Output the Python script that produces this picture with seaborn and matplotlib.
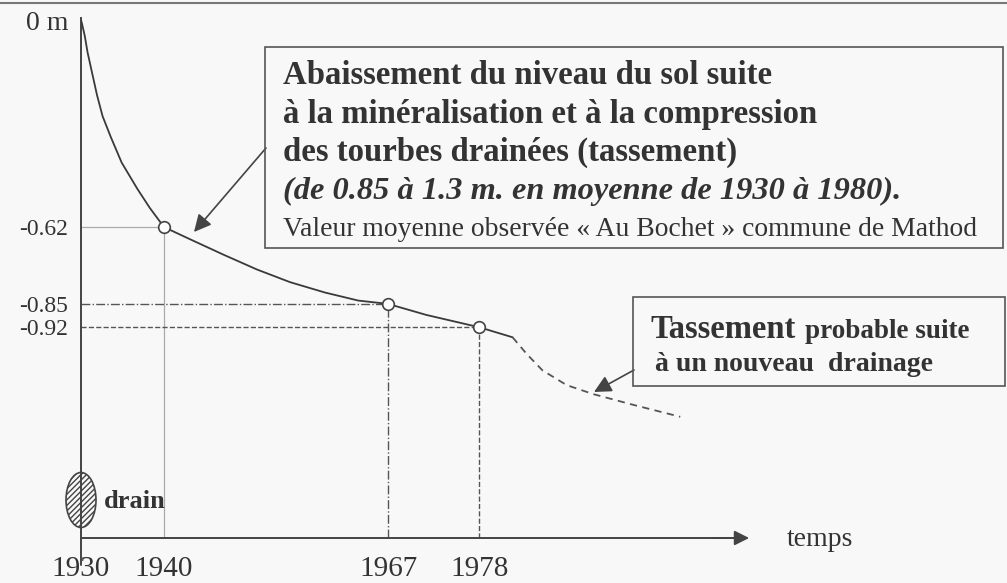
import matplotlib
matplotlib.use("Agg")
import matplotlib.pyplot as plt
from matplotlib.patches import Rectangle, Ellipse
from matplotlib.lines import Line2D
import seaborn as sns
import pandas as pd

# --- data ---
# observed subsidence curve (years, depth in m)
curve_years = [1930, 1930.1, 1930.45, 1930.8, 1931.36, 1931.93, 1932.6, 1933.6, 1934.9,
               1936.8, 1938.3, 1940, 1943.1, 1947.2, 1951.2, 1955.2, 1959.4, 1963.4,
               1967, 1971.6, 1978, 1982]
curve_depth = [0.0, -0.009, -0.047, -0.098, -0.161, -0.225, -0.288, -0.351, -0.427,
               -0.506, -0.563, -0.62, -0.656, -0.703, -0.747, -0.785, -0.816, -0.840,
               -0.85, -0.883, -0.92, -0.95]
# probable further subsidence after new drainage
tail_years = [1982, 1983.7, 1985.6, 1988.5, 1991.7, 1996.5, 2002.2]
tail_depth = [-0.95, -1.00, -1.049, -1.093, -1.12, -1.152, -1.188]
# marked observations
mark_years = [1940, 1967, 1978]
mark_depth = [-0.62, -0.85, -0.92]
mark_styles = ["-", "-.", "--"]

xtick_vals = [1930, 1940, 1967, 1978]
xtick_labels = ["1930", "1940", "1967", "1978"]
ytick_vals = [0, -0.62, -0.85, -0.92]
ytick_labels = ["0 m", "-0.62", "-0.85", "-0.92"]

W, H = 1007, 583
INK = "#333333"
BG = "#f8f8f8"

sns.set_style("white")
plt.rcParams["font.family"] = ["Liberation Serif", "DejaVu Serif"]

fig = plt.figure(figsize=(W / 100, H / 100), dpi=100, facecolor=BG)

def fx(px):
    return px / W

def fy(py):
    return 1 - py / H

Y0 = -518 / 334  # depth at the time axis

# axes: left edge = y axis (1930), bottom edge = time axis
ax = fig.add_axes([fx(81), fy(538), (W - 81) / W, 538 / H])
ax.set_facecolor("none")
ax.set_xlim(1930, 1930 + 926 / 8.3)
ax.set_ylim(Y0, 20 / 334)

# reference lines to the axes
ref_colors = ["#aaaaaa", "#555555", "#555555"]
ref_lw = [0.9, 1.0, 1.0]
for yr, d, ls, c, lw in zip(mark_years, mark_depth, mark_styles, ref_colors, ref_lw):
    ax.hlines(d, 1930, yr, colors=c, linestyles=ls, lw=lw, zorder=1)
    ax.vlines(yr, Y0, d, colors=c, linestyles=ls, lw=lw, zorder=1)

df = pd.DataFrame({"year": curve_years, "depth": curve_depth})
sns.lineplot(data=df, x="year", y="depth", sort=False, estimator=None,
             color="#3a3a3a", lw=1.3, ax=ax, zorder=3)
tail = pd.DataFrame({"year": tail_years, "depth": tail_depth})
sns.lineplot(data=tail, x="year", y="depth", sort=False, estimator=None,
             color="#555555", lw=1.3, linestyle=(0, (4, 3)), ax=ax, zorder=3)
sns.scatterplot(x=mark_years, y=mark_depth, s=70, facecolor="white",
                edgecolor="#444444", linewidth=1.2, ax=ax, zorder=4)

# axes styling
for s in ["top", "right"]:
    ax.spines[s].set_visible(False)
for s in ["left", "bottom"]:
    ax.spines[s].set_color("#444444")
    ax.spines[s].set_linewidth(1.4)
ax.spines["bottom"].set_bounds(1930, 2009)
ax.spines["left"].set_bounds(Y0, 0.005)
ax.annotate("", xy=(2010.5, Y0), xytext=(2006, Y0),
            arrowprops=dict(arrowstyle="-|>", color="#444444", lw=1.4,
                            mutation_scale=22, shrinkA=0, shrinkB=0),
            annotation_clip=False)
ax.plot([1930, 1930], [Y0, -545 / 334], color="#444444", lw=1.4, clip_on=False)

ax.set_xticks(xtick_vals)
ax.set_xticklabels(xtick_labels, fontsize=21, color=INK)
ax.set_yticks(ytick_vals)
ax.set_yticklabels(ytick_labels, fontsize=17, color=INK)
ax.tick_params(axis="x", length=0, pad=13)
ax.tick_params(axis="y", length=0, pad=9)
ax.get_yticklabels()[0].set_fontsize(20)
ax.set_xlabel("")
ax.set_ylabel("")
ax.text(fx(787), fy(540), "temps", transform=fig.transFigure, fontsize=20,
        color=INK, va="center", ha="left")

# drain symbol
ax.add_patch(Ellipse((1930, -480 / 334), 30 / 8.3, 55 / 334, facecolor="none",
                     edgecolor="#444444", hatch="//////", lw=1.2, clip_on=False, zorder=5))
fig.text(fx(104), fy(502), "drain", fontsize=19, fontweight="bold", color=INK, va="center")

# annotation box 1
fig.add_artist(Rectangle((fx(265), fy(248)), (1003 - 265) / W, (248 - 47) / H,
                         transform=fig.transFigure, facecolor="none",
                         edgecolor="#555555", lw=1.2))
lines1 = [("Abaissement du niveau du sol suite", "bold", "normal", 23.6, 75),
          ("à la minéralisation et à la compression", "bold", "normal", 23.6, 114),
          ("des tourbes drainées (tassement)", "bold", "normal", 23.6, 152),
          ("(de 0.85 à 1.3 m. en moyenne de 1930 à 1980).", "bold", "italic", 23.3, 191),
          ("Valeur moyenne observée « Au Bochet » commune de Mathod", "normal", "normal", 19.9, 230)]
for txt, w, st, fs, py in lines1:
    fig.text(fx(283), fy(py), txt, fontsize=fs, fontweight=w, fontstyle=st,
             color=INK, va="center", ha="left")
ax.annotate("", xy=(1930 + (195 - 82) / 8.3, -(232 - 20) / 334), xycoords="data",
            xytext=(fx(266), fy(148)), textcoords="figure fraction",
            arrowprops=dict(arrowstyle="-|>", color="#444444", lw=1.2,
                            mutation_scale=26, shrinkA=0, shrinkB=0))

# annotation box 2
fig.add_artist(Rectangle((fx(633), fy(386)), (1005 - 633) / W, (386 - 297) / H,
                         transform=fig.transFigure, facecolor="none",
                         edgecolor="#555555", lw=1.2))
fig.text(fx(650), fy(338), "Tassement", fontsize=23.5, fontweight="bold", color=INK,
         va="baseline", ha="left")
fig.text(fx(805), fy(338), "probable suite", fontsize=19.5, fontweight="bold", color=INK,
         va="baseline", ha="left")
fig.text(fx(655), fy(371), "à un nouveau  drainage", fontsize=20, fontweight="bold",
         color=INK, va="baseline", ha="left")
ax.annotate("", xy=(1930 + (595 - 82) / 8.3, -(392 - 20) / 334), xycoords="data",
            xytext=(fx(634), fy(370)), textcoords="figure fraction",
            arrowprops=dict(arrowstyle="-|>", color="#444444", lw=1.2,
                            mutation_scale=26, shrinkA=0, shrinkB=0))

# top frame line of the scan
fig.add_artist(Line2D([0, 1], [fy(3), fy(3)], transform=fig.transFigure,
                      color="#777777", lw=1.5))

fig.savefig("out.png", dpi=100, facecolor=BG)
